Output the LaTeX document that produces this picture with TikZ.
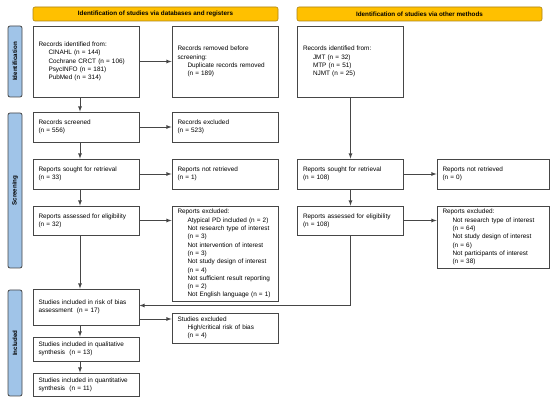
\documentclass[tikz,border=0pt]{standalone}
\usepackage{fontspec}
\setmainfont{Liberation Sans}
\definecolor{hdrgold}{RGB}{255,192,0}
\definecolor{hdredge}{RGB}{170,130,20}
\definecolor{sideblue}{RGB}{160,196,232}
\definecolor{linegray}{RGB}{70,70,70}
\newcommand{\ind}{\hspace*{10pt}}

\begin{document}
\begin{tikzpicture}[x=1pt, y=1pt, node distance=139pt,
    box/.style={draw=linegray, line width=0.8pt, rectangle, fill=white, align=left,
        text width=95pt, inner xsep=5.5pt, minimum height=30pt,
        font=\fontsize{6.4}{8.3}\selectfont},
    hdr/.style={draw=hdredge, line width=0.6pt, fill=hdrgold, rounded corners=2pt,
        minimum width=245pt, minimum height=14pt, inner sep=0pt,
        font=\bfseries\fontsize{6.3}{7}\selectfont},
    side/.style={draw=linegray, line width=0.8pt, fill=sideblue, rounded corners=2pt,
        minimum height=14pt, inner sep=0pt, rotate=90,
        font=\bfseries\fontsize{6.2}{7}\selectfont},
    conn/.style={draw=linegray, line width=0.8pt, -latex}]
    \useasboundingbox (0,0) rectangle (550,-401);

    % Headers
    \node [hdr] (hdrL) at (155.5,-14) {Identification of studies via databases and registers};
    \node [hdr] (hdrR) at (419.5,-14) {Identification of studies via other methods};

    % Side labels
    \node [side, minimum width=71pt] (sideId) at (15,-61.5) {Identification};
    \node [side, minimum width=155pt] (sideScr) at (15,-190.5) {Screening};
    \node [side, minimum width=106pt] (sideInc) at (15,-343) {Included};

    % Nodes, databases and registers
    \node [box, minimum height=71pt] (ident) at (86,-61.5) {Records identified from:\\
        \ind CINAHL (n = 144)\\ \ind Cochrane CRCT (n = 106)\\
        \ind PsycINFO (n = 181)\\ \ind PubMed (n = 314)};
    \node [box, minimum height=71pt, right of=ident] (removed) {Records removed before\\
        screening:\\ \ind Duplicate records removed\\ \ind (n = 189)};
    \node [box, below of=ident, node distance=65.5pt] (screened) {Records screened\\(n = 556)};
    \node [box, right of=screened] (excluded) {Records excluded\\(n = 523)};
    \node [box, below of=screened, node distance=47pt] (sought) {Reports sought for retrieval\\(n = 33)};
    \node [box, right of=sought] (notret) {Reports not retrieved\\(n = 1)};
    \node [box, minimum height=29pt, below of=sought, node distance=46.5pt] (assessed) {Reports assessed for eligibility\\(n = 32)};
    \node [box, minimum height=94pt, anchor=north] (exclL) at (assessed.north -| removed) {Reports excluded:\\
        \ind Atypical PD included (n = 2)\\ \ind Not research type of interest\\ \ind (n = 3)\\
        \ind Not intervention of interest\\ \ind (n = 3)\\ \ind Not study design of interest\\
        \ind (n = 4)\\ \ind Not sufficient result reporting\\ \ind (n = 2)\\
        \ind Not English language (n = 1)};

    % Nodes, other methods
    \node [box, minimum height=71pt] (identO) at (350.5,-61.5) {Records identified from:\\
        \ind JMT (n = 32)\\ \ind MTP (n = 51)\\ \ind NJMT (n = 25)};
    \node [box, below of=identO, node distance=112.5pt] (soughtO) {Reports sought for retrieval\\(n = 108)};
    \node [box, text width=101pt, right of=soughtO, node distance=142.5pt] (notretO) {Reports not retrieved\\(n = 0)};
    \node [box, minimum height=29pt, below of=soughtO, node distance=46.5pt] (assessedO) {Reports assessed for eligibility\\(n = 108)};
    \node [box, text width=101pt, minimum height=62pt, anchor=north] (exclO) at (assessedO.north -| notretO) {Reports excluded:\\
        \ind Not research type of interest\\ \ind (n = 64)\\ \ind Not study design of interest\\
        \ind (n = 6)\\ \ind Not participants of interest\\ \ind (n = 38)};

    % Nodes, included
    \node [box, minimum height=36pt, below of=assessed, node distance=86.5pt] (bias) {Studies included in risk of bias\\assessment\ \ (n = 17)};
    \node [box] (studexcl) at (225,-328) {Studies excluded\\ \ind High/critical risk of bias\\ \ind (n = 4)};
    \node [box, minimum height=24pt, below of=bias, node distance=42pt] (qual) {Studies included in qualitative\\synthesis\ \ (n = 13)};
    \node [box, minimum height=23pt, below of=qual, node distance=35.5pt] (quant) {Studies included in quantitative\\synthesis\ \ (n = 11)};

    % Arrows
    \draw [conn] (ident) -- (removed);
    \draw [conn] ([xshift=-6pt]ident.south) -- ([xshift=-6pt]screened.north);
    \draw [conn] (screened) -- (excluded);
    \draw [conn] ([xshift=-6pt]screened.south) -- ([xshift=-6pt]sought.north);
    \draw [conn] (sought) -- (notret);
    \draw [conn] ([xshift=-6pt]sought.south) -- ([xshift=-6pt]assessed.north);
    \draw [conn] (assessed.east) -- (assessed.east -| exclL.west);
    \draw [conn] ([xshift=-6pt]assessed.south) -- ([xshift=-6pt]bias.north);
    \draw [conn] (identO) -- (soughtO);
    \draw [conn] (soughtO) -- (notretO);
    \draw [conn] (soughtO) -- (assessedO);
    \draw [conn] (assessedO.east) -- (assessedO.east -| exclO.west);
    \draw [conn] (assessedO.south) |- ([yshift=1.5pt]bias.east);
    \draw [conn] ([yshift=-12pt]bias.east) -- ([yshift=-12pt]bias.east -| studexcl.west);
    \draw [conn] ([xshift=-6pt]bias.south) -- ([xshift=-6pt]qual.north);
    \draw [conn] ([xshift=-6pt]qual.south) -- ([xshift=-6pt]quant.north);
\end{tikzpicture}
\end{document}
